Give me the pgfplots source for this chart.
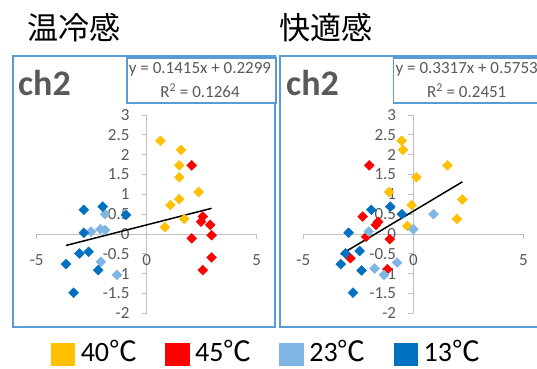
\documentclass[border=0pt]{standalone}
\usepackage{pgfplots}
\pgfplotsset{compat=1.18}
\usepackage{fontspec}
\setmainfont{Carlito}
\newfontfamily\cjk{Noto Sans CJK JP}
\definecolor{c40}{HTML}{FFC000}
\definecolor{c45}{HTML}{FF0000}
\definecolor{c23}{HTML}{7EB5E4}
\definecolor{c13}{HTML}{0070C0}
\definecolor{frame}{HTML}{5B9BD5}
\definecolor{txt}{HTML}{595959}
\definecolor{axgray}{HTML}{BFBFBF}
\pgfplotsset{
  panel/.style={
    scale only axis, width=220pt, height=198.3pt,
    xmin=-5, xmax=5, ymin=-2, ymax=3,
    axis lines=middle,
    axis line style={axgray, line width=0.8pt, -},
    tick style={axgray, line width=0.8pt},
    major tick length=5pt,
    tick align=outside,
    xtick={-5,0,5},
    ytick={-2,-1.5,-1,-0.5,0,0.5,1,1.5,2,2.5,3},
    hide obscured x ticks=false, hide obscured y ticks=false,
    /pgf/number format/assume math mode=true,
    /pgf/number format/fixed,
    ticklabel style={font=\fontsize{17}{17}\selectfont, text=txt},
    yticklabel style={anchor=east, inner sep=0pt, xshift=-12pt},
    xticklabel style={anchor=center, inner sep=0pt, yshift=-21pt},
    clip=false,
  },
  dot/.style={only marks, mark=square*, mark size=3.5pt, color=#1, mark options={rotate=45, draw=none, fill=#1}},
}
\begin{document}
\begin{tikzpicture}[x=1pt,y=1pt]
\useasboundingbox (0,0) rectangle (537,368);
% titles
\node[inner sep=0, anchor=center, font=\cjk\fontsize{31}{31}\selectfont] at (73.5,340) {温冷感};
\node[inner sep=0, anchor=center, font=\cjk\fontsize{31}{31}\selectfont] at (325.5,340) {快適感};
% panel frames
\draw[frame, line width=1.5pt] (13,312) rectangle (275,41);
\draw[frame, line width=1.5pt] (280,312) rectangle (545,41);
% left axis
\begin{axis}[panel, at={(36.7pt,54.7pt)}, anchor=south west,
  legend columns=4,
  legend image code/.code={\fill[#1] (0pt,-11pt) rectangle (23.5pt,11pt);},
  legend style={at={(0.0636,-0.205)}, anchor=west, draw=none, fill=none, inner sep=0pt,
    nodes={inner sep=0pt, text height=18pt, text depth=2pt},
    font=\fontsize{28}{28}\selectfont,
    /tikz/every odd column/.append style={column sep=6pt},
    /tikz/every even column/.append style={column sep=28pt}},
]
\addplot[dot=c40] coordinates {(0.62,2.35)(1.56,2.12)(1.48,1.73)(1.48,1.43)(2.36,1.06)(1.48,0.88)(1.08,0.73)(1.71,0.38)(0.83,0.17)};
\addlegendentry{40{\cjk ℃}}
\addplot[dot=c45] coordinates {(2.05,1.73)(2.55,0.44)(2.47,0.31)(2.89,0.23)(2.95,-0.03)(2.05,-0.11)(2.95,-0.59)(2.55,-0.91)};
\addlegendentry{45{\cjk ℃}}
\addplot[dot=c23] coordinates {(-1.89,0.50)(-2.53,0.06)(-2.11,0.12)(-1.89,0.10)(-2.08,-0.70)(-1.35,-1.03)};
\addlegendentry{23{\cjk ℃}}
\addplot[dot=c13] coordinates {(-2.86,0.61)(-2.0,0.69)(-0.94,0.48)(-2.86,0.03)(-3.06,-0.49)(-2.64,-0.45)(-3.67,-0.76)(-2.2,-0.91)(-3.32,-1.48)};
\addlegendentry{13{\cjk ℃}}
\addplot[black, line width=1.5pt, forget plot] coordinates {(-3.67,-0.2894)(2.95,0.6473)};
\end{axis}
% right axis
\begin{axis}[panel, at={(303.3pt,54.7pt)}, anchor=south west]
\addplot[dot=c40] coordinates {(-0.53,2.35)(-0.47,2.12)(1.55,1.73)(0.14,1.43)(-1.1,1.06)(2.23,0.87)(-0.08,0.73)(1.98,0.38)(-0.27,0.2)};
\addplot[dot=c45] coordinates {(-2.0,1.73)(-2.3,0.44)(-1.6,0.31)(-1.7,0.23)(-2.14,-0.07)(-1.07,-0.13)(-2.86,-0.61)(-1.18,-0.89)};
\addplot[dot=c23] coordinates {(0.92,0.50)(-2.03,0.06)(0,0.12)(-1.76,-0.87)(-1.33,-1.03)(-0.74,-0.72)};
\addplot[dot=c13] coordinates {(-1.91,0.61)(-1.05,0.69)(-0.52,0.50)(-2.94,0.03)(-2.44,-0.43)(-3.08,-0.49)(-3.3,-0.76)(-2.35,-0.92)(-2.74,-1.48)};
\addplot[black, line width=1.5pt] coordinates {(-3.3,-0.5193)(2.23,1.3150)};
\end{axis}
% ch2 labels
\node[inner sep=0, anchor=base west, text=txt, font=\bfseries\fontsize{36}{36}\selectfont] at (18,273) {ch2};
\node[inner sep=0, anchor=base west, text=txt, font=\bfseries\fontsize{36}{36}\selectfont] at (286,273) {ch2};
% equation boxes
\draw[frame, line width=1.2pt, fill=white] (127,310) rectangle (276,265);
\draw[frame, line width=1.2pt, fill=white] (393.3,310) rectangle (545,265);
\node[inner sep=0, text=txt, font=\fontsize{17}{17}\selectfont] at (200,298.7) {y = 0.1415x + 0.2299};
\node[inner sep=0, text=txt, font=\fontsize{17}{17}\selectfont] at (200,277.3) {R\textsuperscript{2} = 0.1264};
\node[inner sep=0, text=txt, font=\fontsize{17}{17}\selectfont] at (466.7,298.7) {y = 0.3317x + 0.5753};
\node[inner sep=0, text=txt, font=\fontsize{17}{17}\selectfont] at (466.7,277.3) {R\textsuperscript{2} = 0.2451};
\end{tikzpicture}
\end{document}
